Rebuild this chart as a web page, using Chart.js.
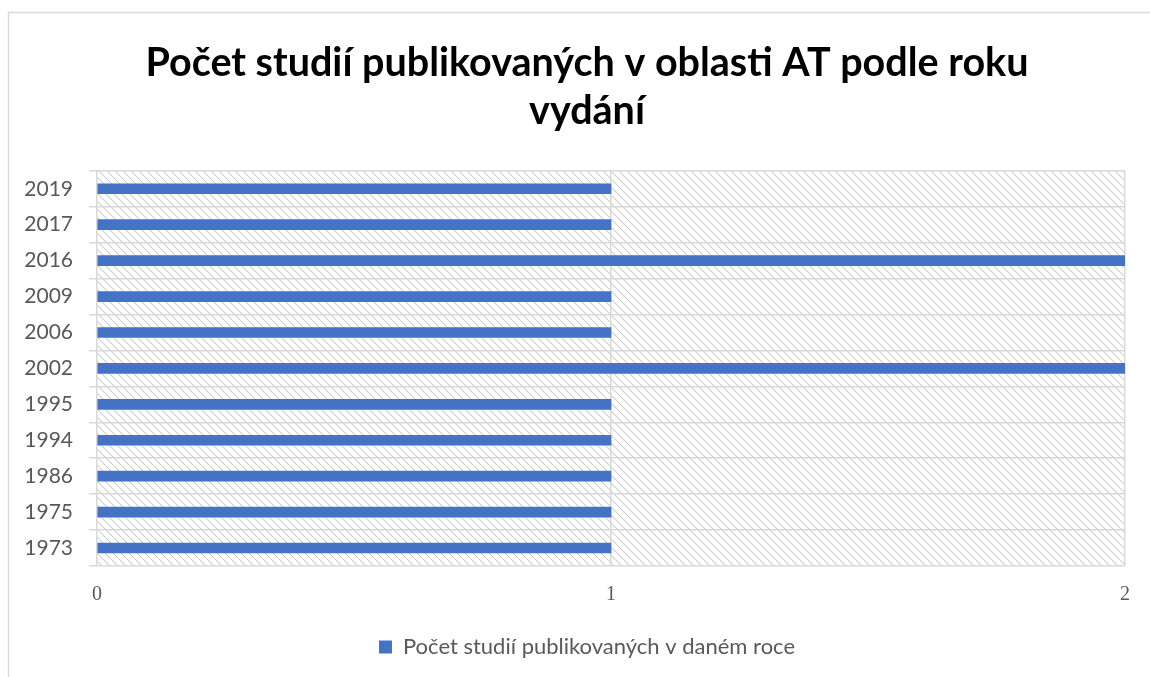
<!DOCTYPE html>
<html><head><meta charset="utf-8">
<script src="https://cdn.jsdelivr.net/npm/chart.js@4"></script>
<style>html,body{margin:0;padding:0;background:#fff;overflow:hidden}</style>
</head><body>
<canvas id="c" width="1150" height="677"></canvas>
<script>
const years = ['1973','1975','1986','1994','1995','2002','2006','2009','2016','2017','2019'];
const studyCounts = [1,1,1,1,1,2,1,1,2,1,1];
const xTickValues = [0,1,2];
const titleLines = ['Počet studií publikovaných v oblasti AT podle roku','vydání'];
const seriesName = 'Počet studií publikovaných v daném roce';

const GRID = '#d9d9d9';
const TEXT = '#595959';

function makePattern(ctx){
  const t = document.createElement('canvas');
  t.width = 8; t.height = 8;
  const g = t.getContext('2d');
  g.fillStyle = '#ffffff'; g.fillRect(0,0,8,8);
  g.strokeStyle = '#d2d2d2'; g.lineWidth = 1.2;
  g.beginPath();
  g.moveTo(-1,-1); g.lineTo(9,9);
  g.moveTo(-5,3); g.lineTo(5,13);
  g.moveTo(3,-5); g.lineTo(13,5);
  g.stroke();
  return ctx.createPattern(t,'repeat');
}

const bgPlugin = {
  id: 'bg',
  beforeDraw(chart){
    const {ctx, chartArea:a} = chart;
    ctx.save();
    ctx.strokeStyle = GRID; ctx.lineWidth = 1.5;
    ctx.strokeRect(8.5, 12.5, 1300, 900);
    ctx.fillStyle = makePattern(ctx);
    ctx.fillRect(a.left, a.top, a.right - a.left, a.bottom - a.top);
    ctx.restore();
  }
};

new Chart(document.getElementById('c'), {
  type: 'bar',
  data: {
    labels: years,
    datasets: [{
      label: seriesName,
      data: studyCounts,
      backgroundColor: '#4472c4',
      borderWidth: 0,
      barThickness: 10
    }]
  },
  options: {
    indexAxis: 'y',
    responsive: false,
    animation: false,
    devicePixelRatio: 1,
    layout: { padding: { left: 24, right: 0, top: 0, bottom: 9 } },
    plugins: {
      title: {
        display: true,
        text: titleLines,
        color: '#000000',
        font: { family: 'Lato', size: 39.5, weight: 'bold', lineHeight: 1.2 },
        padding: { top: 40, bottom: 36 }
      },
      legend: {
        position: 'bottom',
        labels: {
          color: TEXT,
          font: { family: 'Lato', size: 22 },
          boxWidth: 13, boxHeight: 13,
          padding: 10
        }
      },
      tooltip: { enabled: false }
    },
    scales: {
      x: {
        type: 'linear',
        min: 0, max: 2,
        afterBuildTicks(scale){ scale.ticks = xTickValues.map(v => ({value: v})); },
        afterFit(scale){ scale.height = 60; },
        ticks: { color: TEXT, font: { family: 'Liberation Serif', size: 20 }, padding: 17 },
        grid: { color: GRID, lineWidth: 1.5, drawTicks: false },
        border: { display: false }
      },
      y: {
        type: 'category',
        reverse: true,
        afterFit(scale){ scale.width = 73; },
        ticks: { color: TEXT, font: { family: 'Lato', size: 21 }, padding: 16 },
        grid: { color: GRID, lineWidth: 1.5, offset: true, tickLength: 8, drawTicks: true },
        border: { display: false }
      },
      yRight: {
        type: 'linear',
        position: 'right',
        display: true,
        afterFit(scale){ scale.width = 25; },
        ticks: { display: false },
        grid: { display: false },
        border: { display: false }
      }
    }
  },
  plugins: [bgPlugin]
});
</script>
</body></html>
